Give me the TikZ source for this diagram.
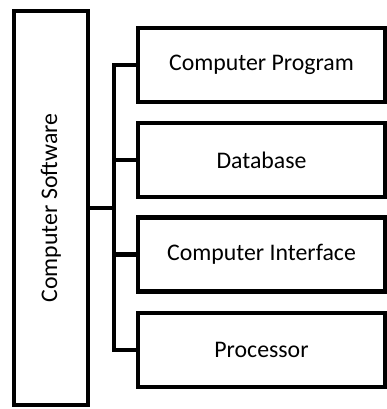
\documentclass[tikz,border=0pt]{standalone}
\usepackage{fontspec}
\setmainfont{Carlito}
\usepackage{tikz}
\usetikzlibrary{calc}

\tikzset{
  softbox/.style={draw=black, line width=4.5pt, fill=white, inner sep=0pt, minimum width=74pt, minimum height=394pt},
  partbox/.style={draw=black, line width=4.5pt, fill=white, inner sep=0pt, minimum width=247pt, minimum height=74pt},
  link/.style={black, line width=4.5pt}
}

\begin{document}
\begin{tikzpicture}[x=1pt, y=-1pt, font=\fontsize{23.8}{28}\selectfont]

\def\busx{114}
\def\boxx{261.5}

\useasboundingbox (0,0) rectangle (387,409);

% main block
\node[softbox] (soft) at (51,208) {};
\node[rotate=90] (softlabel) at (soft.center) {Computer Software};

% parts
\node[partbox] (prog)  at (\boxx,65)    {Computer Program};
\node[partbox] (db)    at (\boxx,160)   {Database};
\node[partbox] (iface) at (\boxx,254.5) {Computer Interface};
\node[partbox] (proc)  at (\boxx,350)   {Processor};

% bus
\coordinate (bus) at (\busx,208);
\draw[link] (soft.east) -- (bus);
\draw[link] (prog.west) -- (prog.west -| bus) -- (proc.west -| bus) -- (proc.west);
\draw[link] (db.west)    -- (db.west -| bus);
\draw[link] (iface.west) -- (iface.west -| bus);

\end{tikzpicture}
\end{document}
